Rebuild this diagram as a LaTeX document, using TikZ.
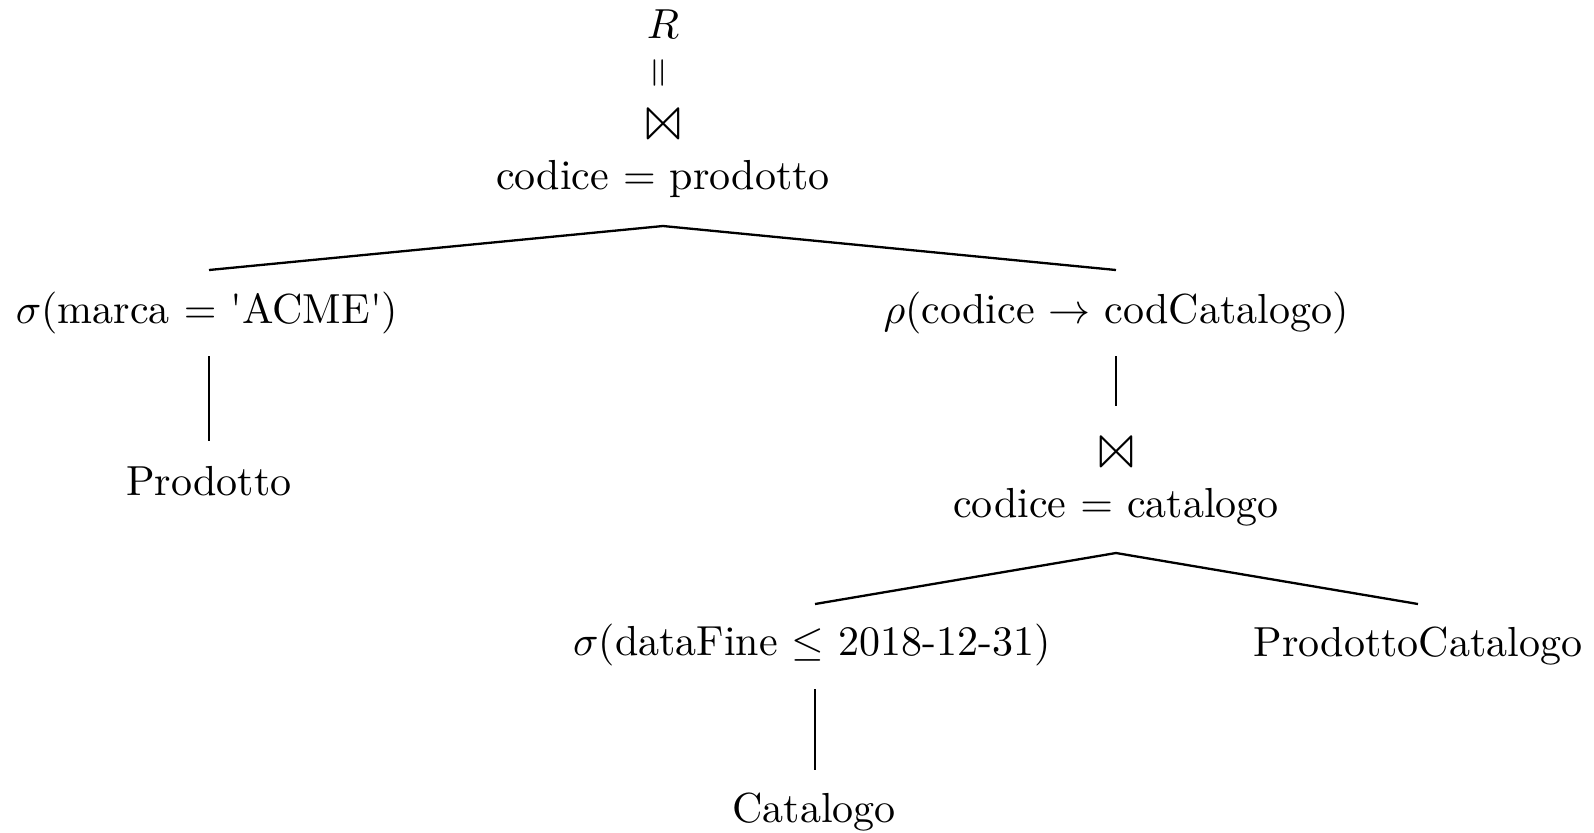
\documentclass[tikz,border=0pt]{standalone}
\usepackage{latexsym}
\usepackage{graphicx}
\begin{document}
\begin{tikzpicture}[x=0.2381pt,y=-0.2381pt,
  lbl/.style={inner sep=0pt,anchor=base},
  sym/.style={inner sep=0pt,anchor=center},
  edge/.style={line width=0.55pt}]
\useasboundingbox (0,0) rectangle (1594,832);

% root of the expression tree
\node[lbl] (res) at (663,38) {$R$};
\node[sym] (eq) at (661,73) {\rotatebox{90}{\scalebox{0.95}{$=$}}};
\node[lbl] (j1) at (663,142) {\scalebox{1.3}{$\Join$}};
\node[lbl] (j1c) at (663,189) {codice $=$ prodotto};

% left branch
\node[lbl] (s1) at (207,323) {$\sigma$(marca $=$ \textquotesingle ACME\textquotesingle)};
\node[lbl] (prod) at (209,495) {Prodotto};

% right branch
\node[lbl] (ren) at (1116,323) {$\rho$(codice $\rightarrow$ codCatalogo)};
\node[lbl] (j2) at (1116,470) {\scalebox{1.3}{$\Join$}};
\node[lbl] (j2c) at (1116,517) {codice $=$ catalogo};
\node[lbl] (s2) at (812,655) {$\sigma$(dataFine $\leq$ 2018-12-31)};
\node[lbl] (pc) at (1418,656) {ProdottoCatalogo};
\node[lbl] (cat) at (814,822) {Catalogo};

% attachment points of the edges
\coordinate (j1b) at (663,226);
\coordinate (s1t) at (209,270);
\coordinate (rent) at (1116,270);
\coordinate (s1b) at (209,356);
\coordinate (prodt) at (209,441);
\coordinate (renb) at (1116,356);
\coordinate (j2t) at (1116,406);
\coordinate (j2b) at (1116,553);
\coordinate (s2t) at (815,604);
\coordinate (pct) at (1418,604);
\coordinate (s2b) at (815,689);
\coordinate (catt) at (815,770);

\draw[edge] (s1t) -- (j1b) -- (rent);
\draw[edge] (s1b) -- (prodt);
\draw[edge] (renb) -- (j2t);
\draw[edge] (s2t) -- (j2b) -- (pct);
\draw[edge] (s2b) -- (catt);
\end{tikzpicture}
\end{document}
